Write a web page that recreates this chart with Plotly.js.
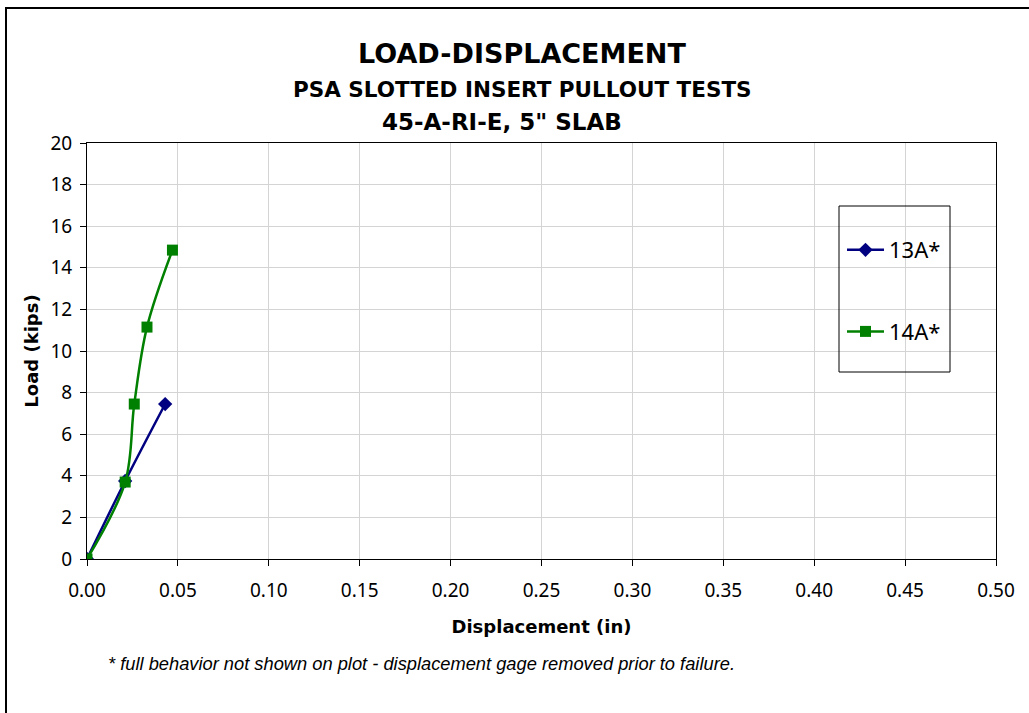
<!DOCTYPE html>
<html>
<head>
<meta charset="utf-8">
<script src="https://cdn.plot.ly/plotly-3.0.1.min.js"></script>
<style>
html,body{margin:0;padding:0;background:#fff;}
#chart{width:1029px;height:713px;}
</style>
</head>
<body>
<div id="chart"></div>
<script>
// Data
const seriesNames = ["13A*", "14A*"];
const disp13A = [0.000, 0.021, 0.043];
const load13A = [0.00, 3.75, 7.45];
const disp14A = [0.000, 0.021, 0.026, 0.033, 0.047];
const load14A = [0.00, 3.70, 7.45, 11.15, 14.85];
const xTickVals = [0, 0.05, 0.10, 0.15, 0.20, 0.25, 0.30, 0.35, 0.40, 0.45, 0.50];
const xTickText = ["0.00","0.05","0.10","0.15","0.20","0.25","0.30","0.35","0.40","0.45","0.50"];
const yTickVals = [0,2,4,6,8,10,12,14,16,18,20];

const titleFont = "DejaVu Sans, Verdana, sans-serif";
const tickFont = "Noto Sans, Open Sans, sans-serif";

const traces = [
  {
    x: disp13A, y: load13A, name: seriesNames[0], type: "scatter", mode: "lines+markers",
    line: {color: "#000080", width: 2.5, shape: "spline"},
    marker: {symbol: "diamond", size: 11, color: "#000080"},
    legendgroup: "a"
  },
  {
    x: disp14A, y: load14A, name: seriesNames[1], type: "scatter", mode: "lines+markers",
    line: {color: "#008000", width: 2.5, shape: "spline"},
    marker: {symbol: "square", size: 11, color: "#008000"},
    legendgroup: "b"
  }
];

// plot area: x 87..996, y 143..559
const L = 87, R = 33, T = 143, B = 154, W = 909, H = 416;
const px = v => (v - L) / W;
function pyy(v){ return (T + H - v) / H; }

const layout = {
  width: 1029, height: 713,
  margin: {l: L, r: R, t: T, b: B, pad: 0},
  paper_bgcolor: "#ffffff",
  plot_bgcolor: "#ffffff",
  showlegend: true,
  legend: {
    x: px(842), y: pyy(229), xanchor: "left", yanchor: "top",
    bgcolor: "rgba(0,0,0,0)", borderwidth: 0,
    font: {family: tickFont, size: 22, color: "#000"},
    traceorder: "grouped", tracegroupgap: 50, itemwidth: 37
  },
  xaxis: {
    range: [0, 0.5], tickvals: xTickVals, ticktext: xTickText,
    showgrid: true, gridcolor: "#d4d4d4", gridwidth: 1,
    showline: true, linecolor: "#000", linewidth: 1, mirror: true,
    ticks: "outside", ticklen: 6, tickcolor: "#000",
    tickfont: {family: tickFont, size: 19, color: "#000"},
    ticklabelstandoff: 8,
    zeroline: false,
    title: {text: "<b>Displacement (in)</b>", font: {family: titleFont, size: 18, color: "#000"}, standoff: 18}
  },
  yaxis: {
    range: [0, 20], tickvals: yTickVals,
    showgrid: true, gridcolor: "#d4d4d4", gridwidth: 1,
    showline: true, linecolor: "#000", linewidth: 1, mirror: true,
    ticks: "outside", ticklen: 6, tickcolor: "#000",
    tickfont: {family: tickFont, size: 19, color: "#000"},
    ticklabelstandoff: 4,
    zeroline: false,
    title: {text: "<b>Load (kips)</b>", font: {family: titleFont, size: 18, color: "#000"}, standoff: 7}
  },
  annotations: [
    {text: "<b>LOAD-DISPLACEMENT</b>", xref: "paper", yref: "paper", x: px(522), y: pyy(53),
     xanchor: "center", yanchor: "middle",
     showarrow: false, font: {family: titleFont, size: 27, color: "#000"}},
    {text: "<b>PSA SLOTTED INSERT PULLOUT TESTS</b>", xref: "paper", yref: "paper", x: px(522), y: pyy(89),
     xanchor: "center", yanchor: "middle",
     showarrow: false, font: {family: titleFont, size: 21.5, color: "#000"}},
    {text: "<b>45-A-RI-E, 5\" SLAB</b>", xref: "paper", yref: "paper", x: px(502), y: pyy(122),
     xanchor: "center", yanchor: "middle",
     showarrow: false, font: {family: titleFont, size: 23, color: "#000"}},
    {text: "<i>* full behavior not shown on plot - displacement gage removed prior to failure.</i>",
     xref: "paper", yref: "paper", x: px(106), y: pyy(663), xanchor: "left", yanchor: "middle",
     showarrow: false, font: {family: "Liberation Sans, Arial, sans-serif", size: 18.3, color: "#000"}}
  ],
  shapes: [
    // legend box
    {type: "rect", xref: "paper", yref: "paper", x0: px(839), x1: px(950), y0: pyy(372), y1: pyy(206),
     line: {color: "#000", width: 1}, fillcolor: "rgba(0,0,0,0)", layer: "above"},
    // outer chart border (left + top)
    {type: "path", xref: "paper", yref: "paper",
     path: "M " + px(6) + " " + pyy(720) + " L " + px(6) + " " + pyy(8) + " L " + px(1035) + " " + pyy(8),
     line: {color: "#000", width: 2}}
  ]
};

Plotly.newPlot("chart", traces, layout, {displayModeBar: false, staticPlot: true});
</script>
</body>
</html>
